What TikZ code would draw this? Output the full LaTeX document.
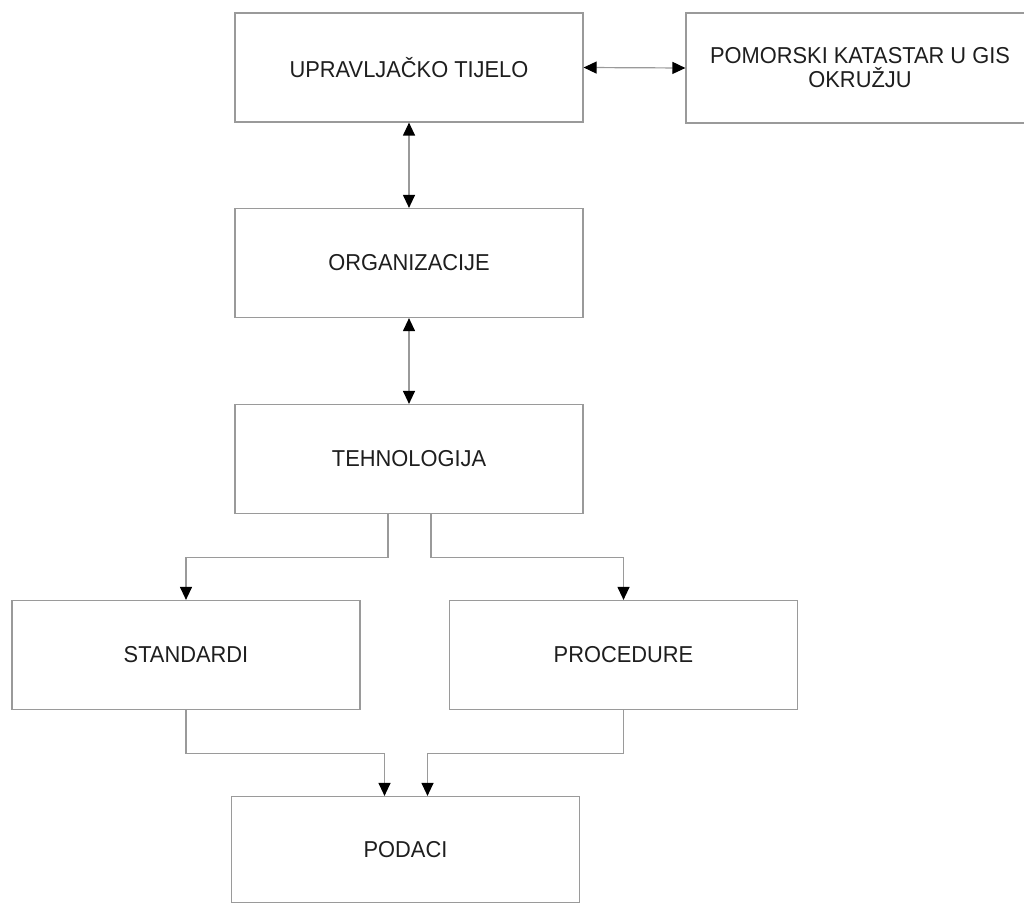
\documentclass[tikz,border=0pt]{standalone}
\usepackage{fontspec}
\setmainfont{Liberation Sans}[FakeStretch=0.95]
\usetikzlibrary{arrows.meta}
\definecolor{linegray}{HTML}{9A9A9A}
\definecolor{txt}{HTML}{1E1E1E}
\tikzset{
  box/.style={draw=linegray, line width=1.2pt, minimum width=348pt, minimum height=109pt,
    inner sep=0pt, align=center, text=txt, font=\fontsize{23pt}{24pt}\selectfont},
  conn/.style={draw=linegray, line width=1.2pt},
  tip/.style={-{Triangle[length=13pt,width=12pt,color=black]}},
  dtip/.style={{Triangle[length=13pt,width=12pt,color=black]}-{Triangle[length=13pt,width=12pt,color=black]}}
}
\begin{document}
\begin{tikzpicture}[x=1pt,y=-1pt]
\useasboundingbox (0,0) rectangle (1024,904);
\begin{scope}
\clip (0,0) rectangle (1024,904);
\node[box] (U) at (409,67.5) {UPRAVLJAČKO TIJELO};
\node[box, minimum height=110pt] (P) at (860,68) {POMORSKI KATASTAR U GIS\\OKRUŽJU};
\node[box] (O) at (409,263) {ORGANIZACIJE};
\node[box] (T) at (409,459) {TEHNOLOGIJA};
\node[box] (S) at (186,655) {STANDARDI};
\node[box] (R) at (623.5,655) {PROCEDURE};
\node[box, minimum height=106pt] (D) at (405.5,849.5) {PODACI};
\draw[conn,dtip] (U.east) -- (P.west);
\draw[conn,dtip] (U.south) -- (O.north);
\draw[conn,dtip] (O.south) -- (T.north);
\draw[conn,tip] ([xshift=-21pt]T.south) -- ++(0,43) -| (S.north);
\draw[conn,tip] ([xshift=22pt]T.south) -- ++(0,43) -| (R.north);
\draw[conn,tip] (S.south) -- ++(0,43) -| ([xshift=-21pt]D.north);
\draw[conn,tip] (R.south) -- ++(0,43) -| ([xshift=22pt]D.north);
\end{scope}
\end{tikzpicture}
\end{document}
